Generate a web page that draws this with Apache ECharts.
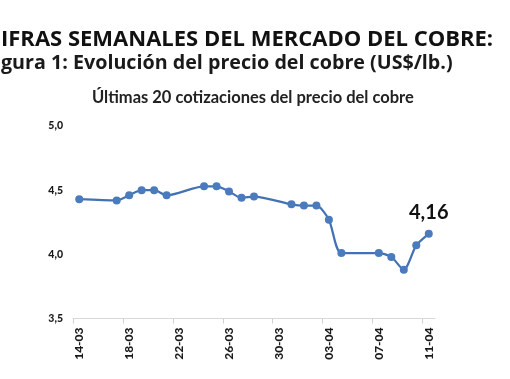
<!DOCTYPE html>
<html><head><meta charset="utf-8">
<script src="https://cdn.jsdelivr.net/npm/echarts@6/dist/echarts.min.js"></script>
<style>html,body{margin:0;padding:0;background:#fff}#c{width:510px;height:379px}</style>
</head><body><div id="c"></div>
<script>
const dates = ['2025-03-14','2025-03-17','2025-03-18','2025-03-19','2025-03-20','2025-03-21',
  '2025-03-24','2025-03-25','2025-03-26','2025-03-27','2025-03-28',
  '2025-03-31','2025-04-01','2025-04-02','2025-04-03','2025-04-04',
  '2025-04-07','2025-04-08','2025-04-09','2025-04-10','2025-04-11'];
const prices = [4.43,4.42,4.46,4.50,4.50,4.46,4.53,4.53,4.49,4.44,4.45,
  4.39,4.38,4.38,4.27,4.01,4.01,3.98,3.88,4.07,4.16];
const tickLabels = ['14-03','18-03','22-03','26-03','30-03','03-04','07-04','11-04'];
const yTicks = [3.5,4.0,4.5,5.0];
const titleMain = 'IFRAS SEMANALES DEL MERCADO DEL COBRE:';
const titleFig = 'gura 1: Evolución del precio del cobre (US$/lb.)';
const subtitle = 'Últimas 20 cotizaciones del precio del cobre';

const DAY = 86400000;
const start = Date.parse(dates[0]);
const dayIdx = d => (Date.parse(d) - start) / DAY;
const tickDays = tickLabels.map((_, i) => i * 4);
const labelDays = tickDays.map(v => v + 0.5);
const fmt = v => v.toFixed(1).replace('.', ',');

const data = dates.map((d, i) => {
  const item = { value: [dayIdx(d) + 0.5, prices[i]] };
  if (i === dates.length - 1) {
    item.label = {
      show: true, position: 'top', distance: 7,
      formatter: p => p.value[1].toFixed(2).replace('.', ','),
      fontSize: 20, fontWeight: 'bold', color: '#111', fontFamily: 'Lato'
    };
  }
  return item;
});

const chart = echarts.init(document.getElementById('c'), null, { renderer: 'canvas' });
chart.setOption({
  animation: false,
  title: [
    { text: titleMain, left: 1, top: 27, padding: 0,
      textStyle: { fontFamily: 'Open Sans', fontWeight: 'bold', fontSize: 22, lineHeight: 26, color: '#111' } },
    { text: titleFig, left: 1, top: 51, padding: 0,
      textStyle: { fontFamily: 'Open Sans', fontWeight: 'bold', fontSize: 19.7, lineHeight: 24, color: '#1a1a1a' } },
    { text: subtitle, left: 92, top: 89, padding: 0,
      textStyle: { fontFamily: 'Lato', fontWeight: 'bold', fontSize: 16.5, lineHeight: 18, color: '#222' } }
  ],
  grid: { left: 73, right: 75, top: 126, bottom: 60.5, containLabel: false },
  xAxis: {
    type: 'value', min: 0, max: 29,
    axisLine: { show: true, lineStyle: { color: '#d9d9d9', width: 1 } },
    axisTick: { show: true, customValues: tickDays, length: 5, lineStyle: { color: '#d0d0d0' } },
    axisLabel: {
      customValues: labelDays, rotate: 90, margin: 9,
      formatter: v => tickLabels[Math.round((v - 0.5) / 4)] || '',
      fontFamily: 'Lato', fontWeight: 900, fontSize: 12, color: '#1a1a1a'
    },
    splitLine: { show: false }
  },
  yAxis: {
    type: 'value', min: yTicks[0], max: yTicks[yTicks.length - 1], interval: 0.5,
    axisLine: { show: false }, axisTick: { show: false }, splitLine: { show: false },
    axisLabel: { formatter: fmt, margin: 10, fontFamily: 'Lato', fontWeight: 900, fontSize: 10.5, color: '#1a1a1a' }
  },
  series: [{
    type: 'line', data: data, smooth: 0.25,
    symbol: 'circle', symbolSize: 8,
    lineStyle: { color: '#4372b4', width: 2.25 },
    itemStyle: { color: '#4a7bbd' }
  }]
});
</script></body></html>
